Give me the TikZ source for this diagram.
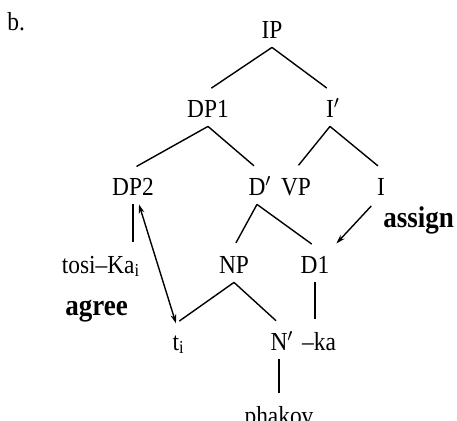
\documentclass[tikz,border=0pt]{standalone}
\usepackage{fontspec}
\setmainfont[FakeStretch=0.9]{Liberation Serif}
\usetikzlibrary{arrows.meta}

\begin{document}
\begin{tikzpicture}[
  x=0.5pt, y=-0.5pt,
  cat/.style={font=\fontsize{13}{15}\selectfont, anchor=base,
              text height=8.6pt, text depth=0pt, inner xsep=2pt, inner ysep=4.5pt},
  rel/.style={font=\bfseries\fontsize{15}{17}\selectfont, anchor=base west, inner sep=0pt},
  br/.style={line width=0.7pt, shorten >=2pt},
  arr/.style={-{Stealth[length=4.5pt, width=2.8pt]}, line width=0.7pt},
  dbl/.style={{Stealth[length=4.5pt, width=2.8pt]}-{Stealth[length=4.5pt, width=2.8pt]}, line width=0.7pt}
]
\useasboundingbox (0,0) rectangle (457,420);
\node[cat, anchor=base west, inner sep=0pt] (lbl) at (7,30) {b.};
% tree nodes, placed at their baselines
\node[cat] (ip)     at (272,38)  {IP};
\node[cat] (dp1)    at (208,117) {DP1};
\node[cat] (ibar)   at (330,117) {I\rlap{$'$}};
\node[cat] (dp2)    at (133,195) {DP2};
\node[cat] (dbar)   at (257,195) {D\rlap{$'$}};
\node[cat] (vp)     at (296,195) {VP};
\node[cat] (i)      at (381,195) {I};
\node[cat] (tosi)   at (101,273) {tosi--Ka\textsubscript{i}};
\node[cat] (np)     at (234,273) {NP};
\node[cat] (d1)     at (315,273) {D1};
\node[cat] (t)      at (176,350) {t\rlap{\textsubscript{i}}};
\node[cat] (nbar)   at (279,350) {N\rlap{$'$}};
\node[cat] (ka)     at (319,350) {--ka};
\node[cat] (phakov) at (279,424) {phakov};
\node[rel] (agree)  at (65,315)  {agree};
\node[rel] (assign) at (383,227) {assign};
% branches
\draw[br] (ip.south)   -- (dp1.north);
\draw[br] (ip.south)   -- (ibar.north);
\draw[br] (dp1.south)  -- (dp2.north);
\draw[br] (dp1.south)  -- (dbar.north);
\draw[br] (ibar.south) -- (vp.north);
\draw[br] (ibar.south) -- (i.north);
\draw[br] (dbar.south) -- (np.north);
\draw[br] (dbar.south) -- (d1.north);
\draw[br] (np.south)   -- (t.north);
\draw[br] (np.south)   -- (nbar.north);
\draw[br] (nbar.south) -- (phakov.north);
\draw[br] (dp2.south)  -- (dp2.south |- tosi.north);
\draw[br] (d1.south)   -- (d1.south |- ka.north);
% agreement and case arrows
\draw[arr, shorten <=1pt, shorten >=2pt] (i.south west) -- (d1.north east);
\draw[dbl] ([xshift=3pt]dp2.south) -- (t.north);
\end{tikzpicture}
\end{document}
